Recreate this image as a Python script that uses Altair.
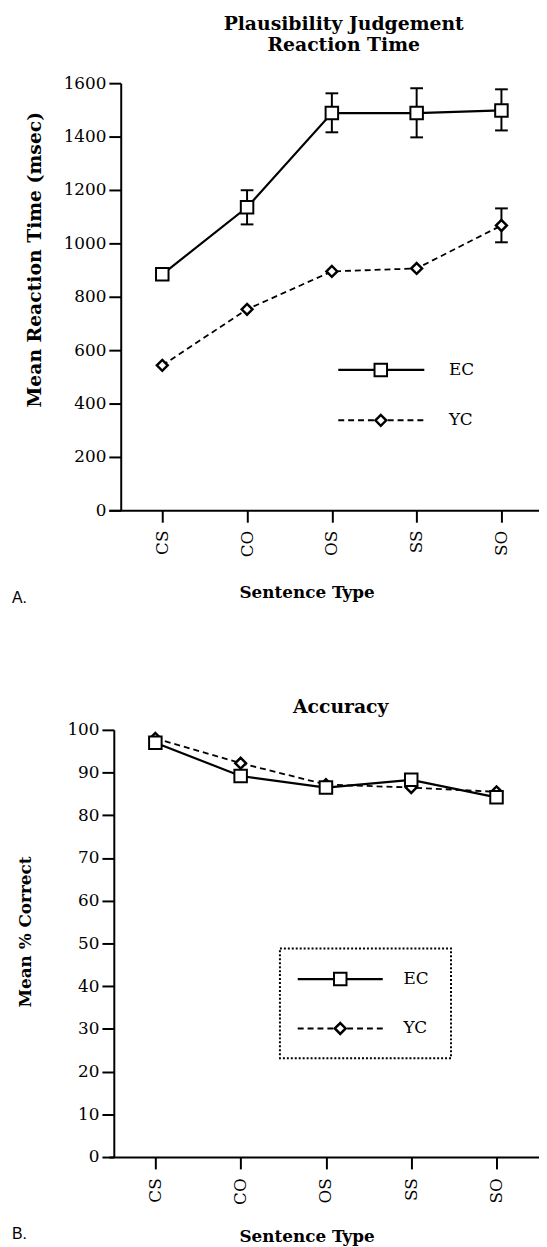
import altair as alt
import pandas as pd

# ---------------- data ----------------
categories = ["CS", "CO", "OS", "SS", "SO"]
series_names = ["EC", "YC"]

rt_ec = [884, 1135, 1488, 1488, 1498]
rt_yc = [543, 753, 895, 906, 1067]
rt_err_cat = ["CO", "OS", "SS", "SO", "SO"]
rt_err_series = ["EC", "EC", "EC", "EC", "YC"]
rt_err_low = [1071, 1416, 1397, 1423, 1004]
rt_err_high = [1199, 1562, 1581, 1577, 1131]

acc_ec = [97.0, 89.2, 86.5, 88.3, 84.2]
acc_yc = [98.0, 92.2, 87.2, 86.5, 85.5]

rt_ticks = [0, 200, 400, 600, 800, 1000, 1200, 1400, 1600]
acc_ticks = [0, 10, 20, 30, 40, 50, 60, 70, 80, 90, 100]

FONT = "DejaVu Serif"


def long_df(ec, yc):
    rows = []
    for i, c in enumerate(categories):
        rows.append({"idx": i, "cat": c, "series": "EC", "value": ec[i]})
        rows.append({"idx": i, "cat": c, "series": "YC", "value": yc[i]})
    return pd.DataFrame(rows)


rt_df = long_df(rt_ec, rt_yc)
acc_df = long_df(acc_ec, acc_yc)
err_df = pd.DataFrame({
    "idx": [categories.index(c) for c in rt_err_cat],
    "series": rt_err_series,
    "low": rt_err_low,
    "high": rt_err_high,
})
one = pd.DataFrame({"k": [0]})

label_expr = "[" + ",".join("'%s'" % c for c in categories) + "][datum.value]"


def x_axis(label_pad, title_y):
    return alt.Axis(
        values=list(range(len(categories))), labelExpr=label_expr, labelAngle=270,
        labelFont=FONT, labelFontSize=17, labelColor="black", labelPadding=label_pad,
        labelFlush=False, labelOverlap=False,
        domainColor="black", domainWidth=2, tickColor="black", tickWidth=2, tickSize=12,
        grid=False, title="Sentence Type", titleFont=FONT, titleFontSize=17,
        titleFontWeight="bold", titleColor="black", titleX=200, titleY=title_y,
        titleAlign="center", titleBaseline="middle",
    )


def y_axis(values, offset, title, tx, ty, tsize):
    return alt.Axis(
        values=values, offset=offset, format="d", labelFont=FONT, labelFontSize=17,
        labelColor="black", labelPadding=3, labelFlush=False, labelOverlap=False,
        domainColor="black", domainWidth=2, tickColor="black", tickWidth=2, tickSize=12,
        grid=False, title=title, titleFont=FONT, titleFontSize=tsize, titleFontWeight="bold",
        titleColor="black", titleAngle=270, titleX=tx, titleY=ty, titleAlign="center",
        titleBaseline="middle",
    )


def legend_layers(x0, x1, xm, xt, y_ec, y_yc):
    return [
        alt.Chart(one).mark_rule(color="black", strokeWidth=2.2).encode(
            x=alt.value(x0), x2=alt.value(x1), y=alt.value(y_ec)),
        alt.Chart(one).mark_rule(color="black", strokeWidth=2, strokeDash=[6, 4]).encode(
            x=alt.value(x0), x2=alt.value(x1), y=alt.value(y_yc)),
        alt.Chart(one).mark_point(shape="square", size=160, fill="white", stroke="black",
                                  strokeWidth=2, opacity=1, fillOpacity=1).encode(
            x=alt.value(xm), y=alt.value(y_ec)),
        alt.Chart(one).mark_point(shape="diamond", size=120, fill="white", stroke="black",
                                  strokeWidth=2.5, opacity=1, fillOpacity=1).encode(
            x=alt.value(xm), y=alt.value(y_yc)),
        alt.Chart(one).mark_text(font=FONT, fontSize=17, align="left", baseline="middle",
                                 color="black").encode(
            x=alt.value(xt), y=alt.value(y_ec), text=alt.value("EC")),
        alt.Chart(one).mark_text(font=FONT, fontSize=17, align="left", baseline="middle",
                                 color="black").encode(
            x=alt.value(xt), y=alt.value(y_yc), text=alt.value("YC")),
    ]


def panel(df, ydom, yticks, ytitle, ytsize, yoff, ytx, yty, xdom, xlabpad, xty,
          title, title_dx, title_off, err=None, box=None, leg=None, letter="A.", letter_y=517):
    xa = x_axis(xlabpad, xty)
    ya = y_axis(yticks, yoff, ytitle, ytx, yty, ytsize)
    xs = alt.Scale(domain=xdom, nice=False, zero=False)
    ys = alt.Scale(domain=ydom, nice=False, zero=False)

    def X(f):
        return alt.X(f, scale=xs, axis=xa)

    def Y(f):
        return alt.Y(f, scale=ys, axis=ya)

    base = alt.Chart(df)
    layers = [
        base.transform_filter("datum.series == 'EC'").mark_line(
            color="black", strokeWidth=2.2).encode(x=X("idx:Q"), y=Y("value:Q")),
        base.transform_filter("datum.series == 'YC'").mark_line(
            color="black", strokeWidth=1.8, strokeDash=[6, 4]).encode(x=X("idx:Q"), y=Y("value:Q")),
    ]
    if err is not None:
        eb = alt.Chart(err)
        layers += [
            eb.mark_rule(color="black", strokeWidth=2).encode(
                x=X("idx:Q"), y=Y("low:Q"), y2="high:Q"),
            eb.transform_calculate(xl="datum.idx - 0.075", xr="datum.idx + 0.075").mark_rule(
                color="black", strokeWidth=2).encode(x=X("xl:Q"), x2="xr:Q", y=Y("high:Q")),
            eb.transform_calculate(xl="datum.idx - 0.075", xr="datum.idx + 0.075").mark_rule(
                color="black", strokeWidth=2).encode(x=X("xl:Q"), x2="xr:Q", y=Y("low:Q")),
        ]
    layers += [
        base.transform_filter("datum.series == 'YC'").mark_point(
            shape="diamond", size=120, fill="white", stroke="black", strokeWidth=2.5,
            opacity=1, fillOpacity=1).encode(x=X("idx:Q"), y=Y("value:Q")),
        base.transform_filter("datum.series == 'EC'").mark_point(
            shape="square", size=160, fill="white", stroke="black", strokeWidth=2,
            opacity=1, fillOpacity=1).encode(x=X("idx:Q"), y=Y("value:Q")),
    ]
    if box is not None:
        layers.append(alt.Chart(one).mark_rect(
            fillOpacity=0, stroke="black", strokeWidth=2, strokeDash=[2, 2]).encode(
            x=alt.value(box[0]), x2=alt.value(box[1]), y=alt.value(box[2]), y2=alt.value(box[3])))
    layers += legend_layers(*leg)
    layers.append(alt.Chart(one).mark_text(
        font="Liberation Sans", fontSize=16, align="left", baseline="middle", color="black").encode(
        x=alt.value(-98), y=alt.value(letter_y), text=alt.value(letter)))

    return alt.layer(*layers).properties(
        width=435, height=432,
        title=alt.TitleParams(title, font=FONT, fontSize=19, fontWeight="bold", color="black",
                              anchor="middle", frame="group", dx=title_dx, offset=title_off,
                              lineHeight=21),
    )


top = panel(rt_df, [0, 1600], rt_ticks, "Mean    Reaction    Time    (msec)", 19, -12, -87, 178,
            [-0.63, 4.443], 8, 83,
            ["Plausibility Judgement", "Reaction Time"], 20, 20,
            err=err_df, leg=(232, 319, 275, 344, 290, 341), letter="A.", letter_y=521)

bottom = panel(acc_df, [0, 100], acc_ticks, "Mean   %   Correct", 17, -5, -89, 204,
               [-0.545, 4.498], 9, 80,
               "Accuracy", 17, 4,
               box=(173, 346, 221, 332), leg=(191, 277, 234, 298, 252, 302),
               letter="B.", letter_y=510)

chart = alt.vconcat(top, bottom, spacing=93).properties(
    padding={"left": 4, "right": 0, "top": 0, "bottom": 0},
    background="white",
).configure_view(stroke=None)

chart.save("out.html", embed_options={"renderer": "svg", "actions": False})
